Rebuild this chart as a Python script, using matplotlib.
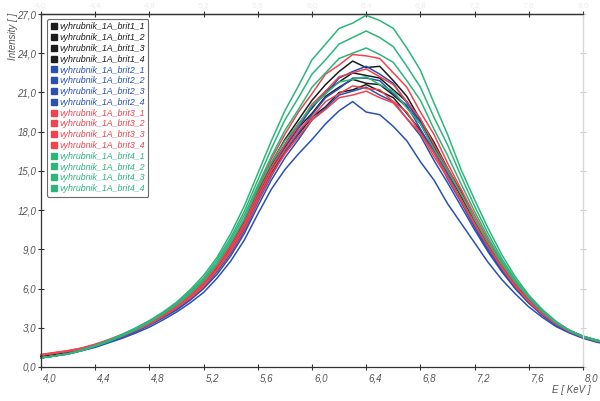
import numpy as np
import matplotlib.pyplot as plt
import matplotlib.transforms as mtransforms
from matplotlib.lines import Line2D

plt.rcParams['font.family'] = ['Liberation Sans', 'DejaVu Sans']

# energy grid [keV]
energy = [4.0, 4.1, 4.2, 4.3, 4.4, 4.5, 4.6, 4.7, 4.8, 4.9,
          5.0, 5.1, 5.2, 5.3, 5.4, 5.5, 5.6, 5.7, 5.8, 5.9,
          6.0, 6.1, 6.2, 6.3, 6.4, 6.5, 6.6, 6.7, 6.8, 6.9,
          7.0, 7.1, 7.2, 7.3, 7.4, 7.5, 7.6, 7.7, 7.8, 7.9,
          8.0, 8.1, 8.2]

# intensities
brit1_1 = [0.8, 0.95, 1.15, 1.4, 1.7, 2.05, 2.45, 2.9, 3.4, 4.0,
           4.7, 5.5, 6.5, 7.8, 9.4, 11.2, 13.5, 15.6, 17.4, 18.9,
           20.4, 21.6, 22.6, 23.4, 22.9, 23.0, 21.9, 20.7, 18.9, 17.2,
           15.2, 13.4, 11.3, 9.4, 7.8, 6.4, 5.2, 4.2, 3.4, 2.8,
           2.35, 2.05, 1.85]
brit1_2 = [0.8, 0.95, 1.1, 1.35, 1.65, 2.0, 2.45, 2.9, 3.4, 4.0,
           4.65, 5.5, 6.4, 7.7, 9.3, 11.1, 13.4, 15.4, 17.0, 18.6,
           19.8, 21.1, 21.8, 22.5, 22.3, 22.1, 21.2, 20.3, 18.7, 16.9,
           15.1, 13.1, 11.2, 9.3, 7.7, 6.3, 5.1, 4.1, 3.3, 2.75,
           2.3, 2.0, 1.8]
brit1_3 = [0.75, 0.9, 1.1, 1.35, 1.65, 2.0, 2.4, 2.85, 3.35, 3.95,
           4.6, 5.4, 6.35, 7.6, 9.1, 10.9, 13.1, 15.1, 16.8, 18.3,
           19.4, 20.7, 21.4, 22.0, 21.7, 21.6, 20.8, 19.9, 18.6, 16.8,
           14.9, 13.1, 11.2, 9.3, 7.7, 6.3, 5.1, 4.1, 3.3, 2.7,
           2.3, 2.0, 1.8]
brit1_4 = [0.75, 0.9, 1.05, 1.3, 1.6, 1.95, 2.35, 2.8, 3.3, 3.9,
           4.55, 5.3, 6.2, 7.5, 8.9, 10.6, 12.8, 14.8, 16.5, 17.8,
           19.1, 19.9, 21.0, 21.2, 21.6, 21.1, 20.6, 19.4, 18.1, 16.4,
           14.6, 12.8, 10.9, 9.1, 7.6, 6.2, 5.0, 4.0, 3.25, 2.7,
           2.25, 1.95, 1.8]
brit2_1 = [0.7, 0.85, 1.05, 1.3, 1.6, 1.95, 2.35, 2.8, 3.3, 3.85,
           4.5, 5.3, 6.2, 7.4, 8.9, 10.7, 12.9, 15.0, 16.9, 18.3,
           19.9, 20.9, 22.1, 22.6, 23.0, 22.4, 21.7, 20.2, 18.7, 16.6,
           14.8, 12.7, 10.9, 9.1, 7.5, 6.1, 5.0, 4.0, 3.25, 2.7,
           2.3, 2.0, 1.8]
brit2_2 = [0.7, 0.85, 1.05, 1.3, 1.6, 1.95, 2.3, 2.75, 3.2, 3.8,
           4.4, 5.2, 6.1, 7.3, 8.7, 10.4, 12.6, 14.6, 16.4, 17.9,
           19.3, 20.6, 21.3, 22.1, 22.1, 21.9, 20.9, 20.0, 18.2, 16.5,
           14.4, 12.6, 10.7, 8.9, 7.4, 6.0, 4.9, 4.0, 3.2, 2.65,
           2.25, 1.95, 1.75]
brit2_3 = [0.7, 0.85, 1.0, 1.25, 1.55, 1.9, 2.3, 2.7, 3.2, 3.75,
           4.35, 5.1, 6.0, 7.1, 8.5, 10.2, 12.3, 14.3, 16.0, 17.4,
           18.9, 19.8, 20.8, 21.1, 21.4, 20.8, 20.3, 19.0, 17.7, 15.8,
           14.1, 12.3, 10.5, 8.8, 7.3, 6.0, 4.9, 3.95, 3.2, 2.65,
           2.25, 1.95, 1.75]
brit2_4 = [0.7, 0.85, 1.0, 1.25, 1.5, 1.85, 2.2, 2.6, 3.05, 3.6,
           4.2, 4.9, 5.7, 6.8, 8.1, 9.7, 11.7, 13.6, 15.1, 16.3,
           17.4, 18.6, 19.6, 20.3, 19.5, 19.3, 18.4, 17.3, 15.7, 14.3,
           12.5, 11.0, 9.5, 8.0, 6.7, 5.6, 4.6, 3.8, 3.1, 2.6,
           2.2, 1.9, 1.7]
brit3_1 = [0.95, 1.1, 1.25, 1.45, 1.75, 2.1, 2.5, 2.95, 3.45, 4.05,
           4.7, 5.5, 6.5, 7.8, 9.4, 11.3, 13.7, 15.9, 17.8, 19.5,
           20.9, 22.4, 23.1, 23.9, 23.8, 23.6, 22.5, 21.4, 19.5, 17.8,
           15.6, 13.6, 11.6, 9.7, 8.0, 6.5, 5.3, 4.3, 3.4, 2.8,
           2.35, 2.05, 1.85]
brit3_2 = [0.95, 1.1, 1.25, 1.45, 1.7, 2.05, 2.45, 2.9, 3.4, 4.0,
           4.65, 5.45, 6.4, 7.7, 9.2, 11.0, 13.3, 15.3, 17.0, 18.5,
           20.1, 21.1, 22.2, 22.5, 22.8, 22.2, 21.6, 20.3, 19.0, 17.0,
           15.2, 13.3, 11.3, 9.5, 7.8, 6.4, 5.2, 4.2, 3.35, 2.75,
           2.3, 2.0, 1.8]
brit3_3 = [0.9, 1.05, 1.2, 1.4, 1.7, 2.0, 2.4, 2.85, 3.3, 3.9,
           4.55, 5.35, 6.25, 7.5, 9.0, 10.8, 13.0, 15.0, 16.6, 18.1,
           19.1, 20.3, 20.9, 21.5, 21.3, 21.2, 20.3, 19.5, 17.9, 16.4,
           14.6, 12.8, 11.0, 9.2, 7.6, 6.2, 5.0, 4.05, 3.3, 2.7,
           2.3, 2.0, 1.8]
brit3_4 = [0.9, 1.05, 1.2, 1.4, 1.65, 2.0, 2.35, 2.8, 3.25, 3.85,
           4.5, 5.25, 6.15, 7.4, 8.8, 10.5, 12.7, 14.7, 16.3, 17.6,
           18.9, 19.7, 20.6, 20.8, 21.1, 20.6, 20.2, 19.0, 17.9, 16.1,
           14.5, 12.7, 10.9, 9.2, 7.6, 6.2, 5.05, 4.1, 3.3, 2.75,
           2.3, 2.0, 1.8]
brit4_1 = [0.7, 0.85, 1.0, 1.3, 1.65, 2.05, 2.5, 3.0, 3.55, 4.2,
           4.95, 5.9, 7.0, 8.4, 10.2, 12.3, 14.8, 17.3, 19.6, 21.5,
           23.5, 24.7, 25.9, 26.3, 26.9, 26.5, 25.9, 24.4, 22.7, 20.2,
           17.8, 15.1, 12.8, 10.6, 8.6, 6.9, 5.5, 4.4, 3.5, 2.8,
           2.35, 2.05, 1.85]
brit4_2 = [0.7, 0.85, 1.0, 1.3, 1.6, 2.0, 2.45, 2.95, 3.5, 4.15,
           4.9, 5.8, 6.8, 8.2, 9.9, 11.9, 14.3, 16.7, 18.9, 20.6,
           22.4, 23.5, 24.7, 25.2, 25.7, 25.2, 24.5, 23.0, 21.4, 19.1,
           17.0, 14.6, 12.3, 10.2, 8.3, 6.7, 5.4, 4.3, 3.45, 2.8,
           2.35, 2.05, 1.85]
brit4_3 = [0.7, 0.85, 1.0, 1.25, 1.6, 1.95, 2.4, 2.9, 3.45, 4.1,
           4.8, 5.7, 6.7, 8.0, 9.7, 11.6, 13.9, 16.1, 18.1, 19.7,
           21.4, 22.5, 23.6, 24.0, 24.4, 23.9, 23.3, 21.9, 20.4, 18.2,
           16.2, 14.0, 11.9, 9.9, 8.1, 6.6, 5.3, 4.25, 3.4, 2.75,
           2.3, 2.0, 1.8]
brit4_4 = [0.7, 0.85, 1.0, 1.25, 1.6, 1.95, 2.4, 2.85, 3.4, 4.05,
           4.75, 5.6, 6.6, 7.9, 9.5, 11.3, 13.6, 15.6, 17.3, 18.6,
           20.0, 20.9, 21.8, 22.0, 22.2, 21.6, 21.1, 19.8, 18.6, 16.7,
           15.0, 13.2, 11.3, 9.5, 7.9, 6.5, 5.3, 4.25, 3.4, 2.8,
           2.35, 2.05, 1.85]

labels = ["vyhrubnik_1A_brit1_1", "vyhrubnik_1A_brit1_2", "vyhrubnik_1A_brit1_3", "vyhrubnik_1A_brit1_4",
          "vyhrubnik_1A_brit2_1", "vyhrubnik_1A_brit2_2", "vyhrubnik_1A_brit2_3", "vyhrubnik_1A_brit2_4",
          "vyhrubnik_1A_brit3_1", "vyhrubnik_1A_brit3_2", "vyhrubnik_1A_brit3_3", "vyhrubnik_1A_brit3_4",
          "vyhrubnik_1A_brit4_1", "vyhrubnik_1A_brit4_2", "vyhrubnik_1A_brit4_3", "vyhrubnik_1A_brit4_4"]
series = [brit1_1, brit1_2, brit1_3, brit1_4,
          brit2_1, brit2_2, brit2_3, brit2_4,
          brit3_1, brit3_2, brit3_3, brit3_4,
          brit4_1, brit4_2, brit4_3, brit4_4]

black, blue, red, green = "#1c1c1c", "#2b50b4", "#f0444f", "#2db57b"
colors = [black] * 4 + [blue] * 4 + [red] * 4 + [green] * 4

xticks = [4.0, 4.4, 4.8, 5.2, 5.6, 6.0, 6.4, 6.8, 7.2, 7.6, 8.0]
yticks = [0, 3, 6, 9, 12, 15, 18, 21, 24, 27]
xlabs = [f"{t:.1f}".replace(".", ",") for t in xticks]
ylabs = [f"{t:.1f}".replace(".", ",") for t in yticks]

fig = plt.figure(figsize=(6, 4.01), dpi=100)
ax = fig.add_axes([41 / 600, 34 / 401, 542 / 600, 353 / 401])

for vals, c in zip(series, colors):
    ax.plot(energy, vals, color=c, lw=1.1, clip_on=False)

ax.set_xlim(4.0, 8.0)
ax.set_ylim(0, 27)
ax.set_xticks(xticks)
ax.set_yticks(yticks)
ax.set_xticklabels(xlabs)
ax.set_yticklabels(ylabs)

lab_kw = dict(fontsize=7, color="#555555", fontstyle="italic")
ax.tick_params(axis="both", direction="inout", length=5, width=0.8,
               color="#333333", labelcolor="#555555", labelsize=7)
ax.tick_params(axis="x", pad=2)
ax.tick_params(axis="y", pad=1)
for t in ax.get_xticklabels() + ax.get_yticklabels():
    t.set_fontstyle("italic")
shift = mtransforms.ScaledTranslation(2 / 100, 0, fig.dpi_scale_trans)
for t in ax.get_xticklabels():
    t.set_horizontalalignment("left")
    t.set_transform(t.get_transform() + shift)

# top axis: dark ticks, almost invisible labels
top = ax.secondary_xaxis("top")
top.set_xticks(xticks)
top.set_xticklabels(xlabs)
top.tick_params(direction="inout", length=5, width=0.8, color="#333333",
                labelcolor="#ececec", labelsize=6, pad=1)
top.spines["top"].set_color("#333333")
top.spines["top"].set_linewidth(0.9)

# right axis: light grey ticks only
right = ax.secondary_yaxis("right")
right.set_yticks(yticks)
right.set_yticklabels([])
right.tick_params(direction="inout", length=5, width=0.8, color="#cfcfcf")
right.spines["right"].set_color("#d8d8d8")

for s in ["left", "bottom", "top"]:
    ax.spines[s].set_color("#333333")
    ax.spines[s].set_linewidth(0.9)
ax.spines["right"].set_color("#d8d8d8")
ax.spines["right"].set_linewidth(0.9)

handles = [Line2D([], [], marker="s", ls="none", color=c, markersize=4.5) for c in colors]
leg = ax.legend(handles, labels, loc="upper left", bbox_to_anchor=(0.011, 0.986),
                borderaxespad=0, frameon=True, fancybox=True,
                prop={"family": "Liberation Sans", "style": "italic", "size": 6.4},
                handlelength=0.7, handletextpad=0.3, labelspacing=0.2,
                borderpad=0.4)
leg.get_frame().set_edgecolor("#444444")
leg.get_frame().set_linewidth(0.8)
leg.set_zorder(5)
for txt, c in zip(leg.get_texts(), colors):
    txt.set_color(c)

fig.text(0.022, 0.968, "Intensity [ ]", rotation=90, va="top", ha="center", **lab_kw)
fig.text(0.985, 0.028, "E [ KeV ]", ha="right", va="center", **lab_kw)

fig.savefig("out.png", dpi=100)
